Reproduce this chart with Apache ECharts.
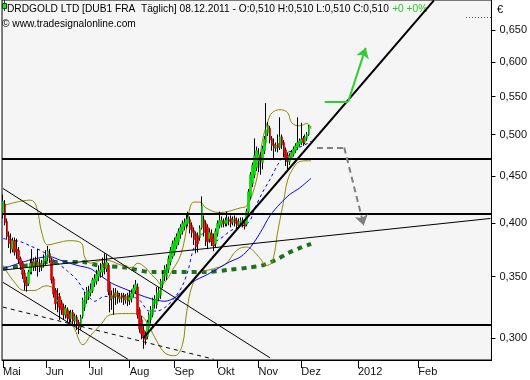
<!DOCTYPE html>
<html><head><meta charset="utf-8">
<script src="https://cdn.jsdelivr.net/npm/echarts@6/dist/echarts.min.js"></script>
<style>html,body{margin:0;padding:0;background:#fff}#c{width:530px;height:380px}</style>
</head><body><div id="c"></div>
<script>
// ---------- categories: trading days May 2 .. Dec 8 2011, then calendar days to Mar 9 2012 ----------
const firstDay = [2011, 4, 2], lastTradeDay = [2011, 11, 8], axisEndDay = [2012, 2, 9];
const monthKeys   = ['2011-05','2011-06','2011-07','2011-08','2011-09','2011-10','2011-11','2011-12','2012-01','2012-02'];
const monthLabels = ['Mai','Jun','Jul','Aug','Sep','Okt','Nov','Dez','2012','Feb'];
const yTicks = [0.30, 0.35, 0.40, 0.45, 0.50, 0.55, 0.60, 0.65];

// ---------- candles [open, close, low, high] ----------
const ohlc = [
[0.410,0.423,0.405,0.430],[0.420,0.401,0.398,0.424],[0.402,0.387,0.384,0.405],[0.388,0.380,0.376,0.392],[0.384,0.375,0.371,0.390],
[0.375,0.383,0.372,0.386],[0.383,0.372,0.369,0.386],[0.375,0.373,0.366,0.385],[0.374,0.365,0.362,0.377],[0.366,0.360,0.356,0.368],
[0.362,0.352,0.348,0.364],[0.353,0.345,0.338,0.356],[0.347,0.342,0.337,0.350],[0.344,0.354,0.342,0.356],[0.354,0.362,0.352,0.366],
[0.364,0.359,0.352,0.375],[0.358,0.364,0.355,0.367],[0.365,0.360,0.355,0.368],[0.360,0.363,0.350,0.375],[0.362,0.358,0.354,0.366],
[0.358,0.362,0.355,0.365],[0.362,0.366,0.358,0.370],
[0.364,0.369,0.360,0.374],[0.367,0.373,0.364,0.378],[0.371,0.366,0.362,0.375],[0.365,0.347,0.344,0.367],[0.348,0.335,0.332,0.350],
[0.338,0.327,0.322,0.340],[0.329,0.330,0.320,0.340],[0.333,0.324,0.314,0.336],[0.327,0.322,0.318,0.330],[0.324,0.318,0.314,0.327],
[0.318,0.323,0.315,0.326],[0.322,0.316,0.312,0.324],[0.318,0.315,0.311,0.321],[0.315,0.320,0.312,0.322],[0.320,0.313,0.309,0.322],
[0.313,0.317,0.310,0.319],[0.316,0.311,0.306,0.318],[0.312,0.308,0.303,0.314],[0.308,0.316,0.306,0.318],[0.317,0.330,0.315,0.332],
[0.324,0.334,0.321,0.337],[0.330,0.338,0.327,0.341],
[0.333,0.337,0.330,0.342],[0.336,0.339,0.333,0.344],[0.338,0.347,0.336,0.349],[0.345,0.348,0.341,0.352],[0.346,0.352,0.343,0.356],
[0.350,0.355,0.346,0.360],[0.354,0.356,0.349,0.362],[0.354,0.361,0.350,0.367],[0.362,0.358,0.352,0.371],[0.357,0.363,0.354,0.370],
[0.360,0.337,0.334,0.362],[0.344,0.330,0.320,0.346],[0.331,0.334,0.322,0.338],[0.336,0.332,0.318,0.340],[0.333,0.336,0.326,0.340],
[0.336,0.331,0.327,0.338],[0.331,0.333,0.328,0.336],[0.334,0.332,0.328,0.336],[0.334,0.330,0.326,0.336],[0.330,0.333,0.327,0.335],
[0.334,0.329,0.325,0.336],
[0.330,0.332,0.326,0.338],[0.331,0.336,0.328,0.339],[0.335,0.340,0.332,0.343],[0.338,0.343,0.335,0.347],[0.341,0.318,0.315,0.344],
[0.322,0.307,0.304,0.324],[0.314,0.303,0.299,0.317],[0.306,0.300,0.292,0.309],[0.302,0.299,0.295,0.305],[0.301,0.312,0.299,0.314],
[0.308,0.318,0.305,0.320],[0.314,0.322,0.311,0.325],[0.318,0.330,0.316,0.332],[0.327,0.331,0.323,0.334],[0.326,0.336,0.323,0.341],
[0.332,0.338,0.329,0.341],[0.334,0.346,0.331,0.348],[0.343,0.352,0.340,0.355],[0.350,0.357,0.346,0.360],[0.350,0.358,0.347,0.361],
[0.356,0.366,0.353,0.369],[0.363,0.374,0.360,0.377],[0.368,0.380,0.366,0.383],
[0.372,0.383,0.369,0.386],[0.378,0.387,0.375,0.390],[0.382,0.392,0.379,0.395],[0.389,0.396,0.385,0.399],[0.392,0.400,0.389,0.403],
[0.397,0.401,0.393,0.405],[0.399,0.404,0.395,0.409],[0.400,0.406,0.397,0.412],[0.404,0.394,0.390,0.407],[0.398,0.391,0.386,0.401],
[0.393,0.384,0.379,0.396],[0.390,0.377,0.371,0.392],[0.388,0.380,0.372,0.391],[0.386,0.395,0.383,0.398],[0.396,0.418,0.394,0.428],
[0.404,0.391,0.387,0.408],[0.400,0.383,0.378,0.403],[0.396,0.382,0.375,0.399],[0.385,0.391,0.381,0.395],[0.390,0.382,0.378,0.394],
[0.386,0.378,0.373,0.390],[0.380,0.392,0.377,0.395],
[0.390,0.400,0.387,0.403],[0.398,0.403,0.395,0.412],[0.399,0.403,0.396,0.407],[0.402,0.400,0.396,0.405],[0.400,0.403,0.397,0.406],
[0.400,0.405,0.397,0.412],[0.404,0.402,0.398,0.407],[0.405,0.400,0.396,0.408],[0.401,0.404,0.398,0.407],[0.405,0.400,0.397,0.408],
[0.403,0.398,0.395,0.406],[0.398,0.402,0.395,0.405],[0.401,0.403,0.398,0.406],[0.403,0.399,0.396,0.406],[0.401,0.397,0.394,0.404],
[0.399,0.412,0.397,0.415],[0.412,0.433,0.409,0.436],[0.428,0.452,0.425,0.455],[0.442,0.463,0.438,0.466],[0.452,0.474,0.448,0.495],
[0.460,0.480,0.456,0.485],
[0.468,0.476,0.455,0.483],[0.474,0.468,0.452,0.478],[0.466,0.482,0.458,0.486],[0.480,0.494,0.476,0.498],[0.490,0.506,0.486,0.541],
[0.502,0.512,0.498,0.516],[0.508,0.493,0.489,0.511],[0.495,0.486,0.480,0.498],[0.488,0.483,0.470,0.495],[0.483,0.487,0.479,0.490],
[0.489,0.484,0.478,0.500],[0.484,0.497,0.481,0.522],[0.497,0.487,0.482,0.500],[0.490,0.478,0.472,0.493],[0.481,0.470,0.462,0.484],
[0.475,0.467,0.458,0.478],[0.467,0.474,0.463,0.477],[0.472,0.478,0.469,0.481],[0.476,0.482,0.473,0.485],[0.480,0.486,0.477,0.489],
[0.484,0.490,0.481,0.522],[0.488,0.492,0.485,0.495],
[0.490,0.494,0.487,0.515],[0.495,0.490,0.486,0.498],[0.490,0.497,0.488,0.500],[0.495,0.500,0.492,0.503],[0.500,0.510,0.498,0.512],
[0.510,0.510,0.510,0.510]
];

// ---------- indicator lines (trading-day index, price) ----------
const upperDays = [0,14,17,20,23,28,34,40,42,45,52,61,66,69,73,76,79,81,83,87,91,94,96,98,101,104,111,122,125,128,131,133,136,138,142,146,148,152,156,158];
const upperVals = [0.418,0.424,0.418,0.390,0.379,0.381,0.383,0.381,0.367,0.362,0.365,0.360,0.358,0.362,0.358,0.352,0.347,0.343,0.345,0.356,0.369,0.393,0.417,0.422,0.422,0.416,0.411,0.416,0.418,0.431,0.457,0.492,0.518,0.528,0.532,0.528,0.515,0.511,0.514,0.507];
const lowerDays = [0,5,11,16,22,27,32,37,41,45,50,55,63,68,73,78,83,88,92,94,97,101,108,114,120,125,128,132,135,138,141,144,146,149,152,156,158];
const lowerVals = [0.360,0.347,0.338,0.338,0.342,0.338,0.322,0.306,0.295,0.302,0.310,0.318,0.319,0.319,0.314,0.300,0.289,0.287,0.295,0.318,0.342,0.353,0.357,0.361,0.374,0.377,0.374,0.366,0.360,0.363,0.393,0.424,0.446,0.460,0.467,0.468,0.468];
const maSlowDays = [0,14,24,29,38,45,49,56,63,69,76,83,89,97,105,111,116,122,127,132,137,142,147,152,158];
const maSlowVals = [0.357,0.365,0.368,0.365,0.360,0.357,0.352,0.344,0.339,0.335,0.331,0.329,0.333,0.345,0.352,0.358,0.363,0.368,0.377,0.391,0.408,0.420,0.430,0.437,0.448];
const maMidDays = [0,9,14,21,28,33,38,42,47,52,59,65,70,75,79,84,88,92,95,97,100,104,109,117,126,129,133,137,141,145,149,152,157,158];
const maMidVals = [0.385,0.382,0.378,0.372,0.362,0.355,0.347,0.337,0.329,0.333,0.333,0.333,0.330,0.321,0.321,0.325,0.332,0.342,0.356,0.371,0.385,0.391,0.383,0.393,0.401,0.415,0.432,0.447,0.464,0.477,0.480,0.484,0.490,0.492];
const maLongDays = [0,12,24,41,49,63,76,88,104,116,126,133,140,146,152,158];
const maLongVals = [0.357,0.360,0.363,0.363,0.360,0.358,0.354,0.354,0.354,0.356,0.358,0.360,0.365,0.371,0.376,0.380];

// ---------- drawn annotations (category index, price) ----------
const levels = [0.4707, 0.4071, 0.3091];
const upTrend = [[72, 0.300], [221, 0.700]];
const riseLine = [[0, 0.3558], [250, 0.405]];
const chanTop = [[0, 0.4366], [137, 0.2854]];
const chanBottom = [[0, 0.345], [64, 0.2845]];
const chanDashed = [[0, 0.3242], [108, 0.2845]];
const greenArrow = [[165, 0.5428], [177, 0.5428], [186, 0.6214]];
const grayArrow = [[161, 0.4838], [175, 0.4838], [185, 0.398]];
const yMin = 0.2839, yMax = 0.7007;

// ---------- build categories ----------
const DAY = 86400000;
const categories = [];
{
  const lastT = Date.UTC(...lastTradeDay), endT = Date.UTC(...axisEndDay);
  for (let t = Date.UTC(...firstDay); t <= endT; t += DAY) {
    const wd = new Date(t).getUTCDay();
    if (t > lastT || (wd !== 0 && wd !== 6)) categories.push(new Date(t).toISOString().slice(0, 10));
  }
}
function monthStart(i) {
  const k = categories[i].slice(0, 7);
  if (monthKeys.indexOf(k) < 0) return false;
  return i === 0 || categories[i - 1].slice(0, 7) !== k;
}
const pairs = (d, v) => d.map((x, k) => [x, v[k]]);
// body-only candles (open, close, body low, body high) drawn over the black wicks
const bodies = ohlc.map(([o, c]) => [o, c, Math.min(o, c), Math.max(o, c)]);
const FONT = '"Liberation Sans", Arial, sans-serif';

function lineSeries(data, color, width, type, smooth) {
  return { type: 'line', data, symbol: 'none', smooth: smooth || 0, silent: true,
    lineStyle: { color, width, type: type || 'solid' }, z: 3 };
}
function segSeries(pts, color, width, type, arrowEnd) {
  const segs = [];
  for (let k = 0; k < pts.length - 1; k++) {
    const last = k === pts.length - 2;
    segs.push([{ coord: pts[k], symbol: 'none' },
               { coord: pts[k + 1], symbol: (arrowEnd && last) ? 'arrow' : 'none', symbolSize: 10 }]);
  }
  return { type: 'line', data: [], silent: true, z: 5,
    markLine: { silent: true, animation: false, symbol: 'none', label: { show: false },
      lineStyle: { color, width, type: type || 'solid' }, emphasis: { disabled: true }, data: segs } };
}

const chart = echarts.init(document.getElementById('c'), null, { renderer: 'canvas' });
chart.setOption({
  animation: false,
  grid: { left: 2, right: 38, top: -1, bottom: 20, show: true, backgroundColor: '#f5f5f5', borderColor: '#000', borderWidth: 1 },
  xAxis: {
    type: 'category', data: categories, boundaryGap: true,
    axisLine: { lineStyle: { color: '#000', width: 1 } },
    axisTick: { show: true, alignWithLabel: true, interval: (i) => monthStart(i), length: 8, lineStyle: { color: '#000' } },
    axisLabel: { interval: (i) => monthStart(i), align: 'left', margin: 6, fontSize: 11, color: '#111', fontFamily: FONT,
      formatter: (v) => monthLabels[monthKeys.indexOf(v.slice(0, 7))] },
    splitLine: { show: false }
  },
  yAxis: {
    type: 'log', logBase: 10, position: 'right', min: yMin, max: yMax,
    axisLine: { show: true, lineStyle: { color: '#000', width: 1 } },
    axisTick: { show: true, length: 4, customValues: yTicks, lineStyle: { color: '#000' } },
    axisLabel: { customValues: yTicks, margin: 8, fontSize: 11, color: '#111', fontFamily: FONT,
      formatter: (v) => Number(v).toFixed(3).replace('.', ',') },
    splitLine: { show: false }, minorTick: { show: false }
  },
  graphic: [
    { type: 'line', shape: { x1: 466, y1: 17.5, x2: 491, y2: 17.5 }, style: { stroke: '#555', lineWidth: 1, lineDash: [1, 2] } },
    { type: 'line', shape: { x1: 4.5, y1: 0, x2: 4.5, y2: 11 }, style: { stroke: '#114411', lineWidth: 1 } },
    { type: 'rect', shape: { x: 2.5, y: 3.5, width: 4, height: 5 }, style: { fill: '#22dd22', stroke: '#114411', lineWidth: 1 } },
    { type: 'text', x: 7, y: 3, style: { text: '{a|DRDGOLD LTD [DUB1 FRA  Täglich] 08.12.2011 - O:0,510 H:0,510 L:0,510 C:0,510} {g|+0 +0%}',
      rich: { a: { font: '10.2px ' + FONT, fill: '#000' }, g: { font: '10.2px ' + FONT, fill: '#22cc22' } } } },
    { type: 'text', x: 2, y: 19, style: { text: '© www.tradesignalonline.com', font: '10.2px ' + FONT, fill: '#000' } },
    { type: 'text', x: 497, y: 4, style: { text: '€', font: '11px ' + FONT, fill: '#000' } }
  ],
  series: [
    lineSeries(pairs(maLongDays, maLongVals), '#1f6f1f', 4, [5, 5], 0.3),
    lineSeries(pairs(upperDays, upperVals), '#8c8a00', 1, 'solid', 0.4),
    lineSeries(pairs(lowerDays, lowerVals), '#8c8a00', 1, 'solid', 0.4),
    lineSeries(pairs(maSlowDays, maSlowVals), '#0000ff', 1, 'solid', 0.3),
    lineSeries(pairs(maMidDays, maMidVals), '#0000ff', 1, [3, 3], 0.3),
    { type: 'candlestick', data: ohlc, barWidth: 1, silent: true, z: 4,
      itemStyle: { color: '#000', color0: '#000', borderColor: '#000', borderColor0: '#000', borderWidth: 1 } },
    { type: 'candlestick', data: bodies, barWidth: 2, silent: true, z: 4,
      itemStyle: { color: '#00e600', color0: '#e60000', borderColor: '#00c000', borderColor0: '#c00000', borderWidth: 0.6 } },
    { type: 'line', data: [], silent: true, z: 5,
      markLine: { silent: true, symbol: 'none', label: { show: false }, emphasis: { disabled: true },
        lineStyle: { color: '#000', width: 2, type: 'solid' }, data: levels.map(v => ({ yAxis: v })) } },
    segSeries(upTrend, '#000', 2),
    segSeries(riseLine, '#000', 1),
    segSeries(chanTop, '#000', 1),
    segSeries(chanBottom, '#000', 1),
    segSeries(chanDashed, '#000', 1, [4, 4]),
    segSeries(greenArrow, '#33cc33', 2, 'solid', true),
    segSeries(grayArrow, '#808080', 2, [6, 4], true)
  ]
});
</script></body></html>
